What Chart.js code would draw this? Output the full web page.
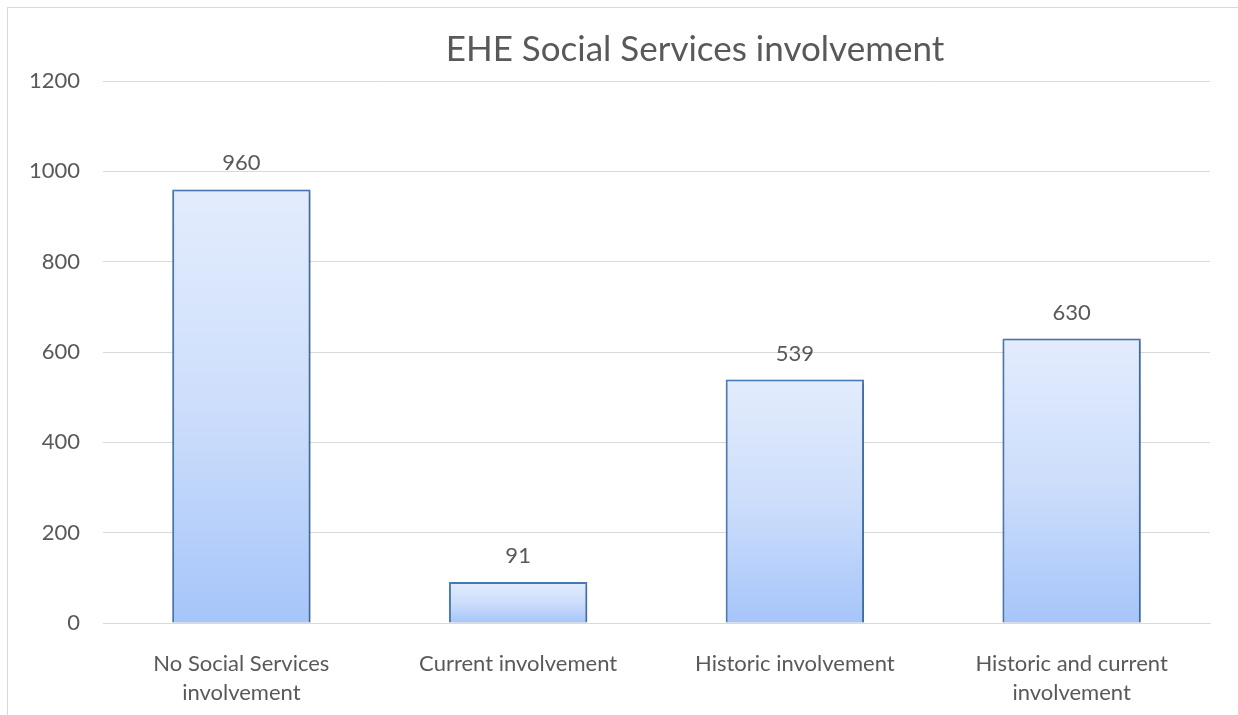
<!DOCTYPE html>
<html>
<head>
<meta charset="utf-8">
<script src="https://cdn.jsdelivr.net/npm/chart.js@4"></script>
<style>
    html, body { margin: 0; padding: 0; background: #fff; overflow: hidden; }
    #frame {
        position: absolute; left: 7px; top: 7px;
        width: 1300px; height: 800px;
        border: 1px solid #d9d9d9;
    }
    #wrap { position: absolute; left: 0; top: 0; width: 1238px; height: 715px; }
</style>
</head>
<body>
<div id="frame"></div>
<div id="wrap"><canvas id="chart"></canvas></div>
<script>
// EHE cohort split by social services involvement

const categories = [
    ["No Social Services", "involvement"],
    "Current involvement",
    "Historic involvement",
    ["Historic and current", "involvement"]
];
const counts = [960, 91, 539, 630];
const yTicks = [0, 200, 400, 600, 800, 1000, 1200];
const chartTitle = "EHE Social Services involvement";

const FONT = "Lato, 'Open Sans', sans-serif";
const TEXT = "#595959";

// vertical gradient per bar, light at the top, blue at the base
function barGradient(ctx) {
    const chart = ctx.chart;
    if (!chart.chartArea) return "#c6d9fb";
    const y = chart.scales.y;
    const top = y.getPixelForValue(ctx.raw);
    const base = y.getPixelForValue(0);
    const g = chart.ctx.createLinearGradient(0, top, 0, base);
    g.addColorStop(0, "#e3ecfd");
    g.addColorStop(0.5, "#cddefb");
    g.addColorStop(1, "#a6c5fa");
    return g;
}

// soft drop shadow under the bars
const barShadow = {
    id: "barShadow",
    beforeDatasetsDraw(chart) {
        const c = chart.ctx;
        c.save();
        c.shadowColor = "rgba(0,0,0,0.28)";
        c.shadowBlur = 4;
        c.shadowOffsetX = 1;
        c.shadowOffsetY = 1;
    },
    afterDatasetsDraw(chart) {
        chart.ctx.restore();
    }
};

// value printed above each bar
const valueLabels = {
    id: "valueLabels",
    afterDatasetsDraw(chart) {
        const c = chart.ctx;
        const meta = chart.getDatasetMeta(0);
        c.save();
        c.font = "22px " + FONT;
        c.fillStyle = TEXT;
        c.textAlign = "center";
        c.textBaseline = "middle";
        meta.data.forEach((bar, i) => {
            c.fillText(String(counts[i]), bar.x, bar.y - 26);
        });
        c.restore();
    }
};

// title is centred on the whole chart frame, which runs past the right edge
const frameTitle = {
    id: "frameTitle",
    afterDraw(chart) {
        const c = chart.ctx;
        c.save();
        c.font = "35px " + FONT;
        c.fillStyle = TEXT;
        c.textAlign = "center";
        c.textBaseline = "middle";
        c.fillText(chartTitle, 695, 50);
        c.restore();
    }
};

new Chart(document.getElementById("chart"), {
    type: "bar",
    data: {
        labels: categories,
        datasets: [{
            data: counts,
            backgroundColor: barGradient,
            borderColor: "#4a7ebb",
            borderWidth: 2,
            borderSkipped: "bottom",
            barPercentage: 0.5,
            categoryPercentage: 1
        }]
    },
    options: {
        responsive: true,
        maintainAspectRatio: false,
        animation: false,
        layout: { padding: { left: 0, right: 28, top: 81, bottom: 0 } },
        scales: {
            x: {
                grid: { display: false },
                border: { display: true, color: "#d9d9d9", width: 1 },
                ticks: {
                    color: TEXT,
                    font: { family: FONT, size: 22, lineHeight: 1.32 },
                    padding: 18,
                    maxRotation: 0,
                    autoSkip: false
                },
                afterFit: s => { s.height = 92; }
            },
            y: {
                min: 0,
                max: 1200,
                afterBuildTicks: s => { s.ticks = yTicks.map(v => ({ value: v })); },
                grid: { color: "#d9d9d9", lineWidth: 1, drawTicks: false },
                border: { display: false },
                ticks: {
                    color: TEXT,
                    font: { family: FONT, size: 22 },
                    padding: 23,
                    callback: v => String(v)
                },
                afterFit: s => { s.width = 103; }
            }
        },
        plugins: {
            legend: { display: false },
            tooltip: { enabled: false },
            title: { display: false }
        }
    },
    plugins: [barShadow, valueLabels, frameTitle]
});
</script>
</body>
</html>
